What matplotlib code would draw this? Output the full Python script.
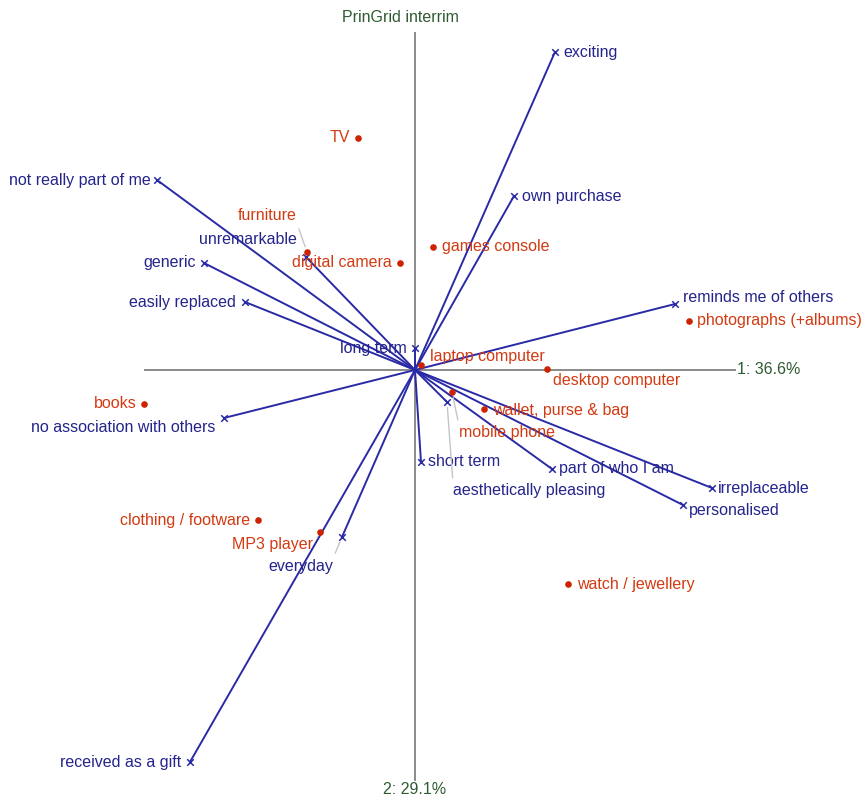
import numpy as np
import matplotlib
matplotlib.use('Agg')
import matplotlib.pyplot as plt

plt.rcParams['font.family'] = ['Liberation Sans', 'DejaVu Sans']

# constructs (vectors from the origin)
construct_names = ['exciting', 'own purchase', 'reminds me of others', 'not really part of me',
                   'unremarkable', 'generic', 'easily replaced', 'long term',
                   'no association with others', 'short term', 'everyday', 'received as a gift',
                   'aesthetically pleasing', 'part of who I am', 'irreplaceable', 'personalised']
construct_x = [1.40, 0.99, 2.60, -2.58, -1.09, -2.11, -1.70, 0.00,
               -1.91, 0.06, -0.73, -2.25, 0.32, 1.37, 2.97, 2.68]
construct_y = [3.18, 1.74, 0.66, 1.90, 1.13, 1.07, 0.68, 0.22,
               -0.48, -0.92, -1.67, -3.92, -0.32, -0.99, -1.18, -1.35]

# elements (points)
element_names = ['TV', 'furniture', 'digital camera', 'games console', 'photographs (+albums)',
                 'laptop computer', 'desktop computer', 'mobile phone', 'wallet, purse & bag',
                 'books', 'clothing / footware', 'MP3 player', 'watch / jewellery']
element_x = [-0.57, -1.08, -0.15, 0.18, 2.74, 0.06, 1.32, 0.37, 0.69, -2.71, -1.57, -0.95, 1.53]
element_y = [2.32, 1.18, 1.07, 1.23, 0.49, 0.05, 0.01, -0.22, -0.39, -0.34, -1.50, -1.62, -2.14]

axis1_label = '1: 36.6%'
axis2_label = '2: 29.1%'
title = 'PrinGrid interrim'

# label placement: (dx, dy in pixels, alignment, leader attach point or None)
construct_lab = [(8, 0, 'left', None), (8, 0, 'left', None), (8, 6, 'left', None),
                 (-6, 0, 'right', None), (-9, 17, 'right', None), (-8, 0, 'right', None),
                 (-9, 0, 'right', None), (-8, 0, 'right', None), (-9, -9, 'right', None),
                 (7, 0, 'left', None), (-9, -29, 'right', (1, 1)), (-9, 0, 'right', None),
                 (6, -89, 'left', (0, 1)), (7, 1, 'left', None), (6, 0, 'left', None),
                 (6, -6, 'left', None)]
element_lab = [(-8, 0, 'right', None), (-10, 36, 'right', (1, 0)), (-8, 0, 'right', None),
               (9, 0, 'left', None), (8, 0, 'left', None), (9, 8, 'left', None),
               (6, -12, 'left', None), (7, -41, 'left', (0, 1)), (9, -1, 'left', None),
               (-7, 0, 'right', None), (-8, 0, 'right', None), (-7, -12, 'right', (1, 0.4)),
               (9, 0, 'left', None)]

blue = '#2a2aa6'
blue_txt = '#24248c'
red = '#cc2200'
red_txt = '#d23a12'
green_txt = '#2f5a32'
fs = 11.5

fig = plt.figure(figsize=(8.66, 8.0), dpi=100)
ax = fig.add_axes([0, 0, 1, 1])
ax.set_xlim(-4.15, 4.51)
ax.set_ylim(-4.30, 3.70)
ax.axis('off')

# principal axes
ax.plot([-2.70, 3.20], [0, 0], color='#8a8a8a', lw=1.4, zorder=1)
ax.plot([0, 0], [3.37, -4.10], color='#8a8a8a', lw=1.4, zorder=1)
ax.text(3.22, 0, axis1_label, color=green_txt, fontsize=fs, ha='left', va='center')
ax.text(0, -4.20, axis2_label, color=green_txt, fontsize=fs, ha='center', va='center')
ax.text(-0.15, 3.53, title, color=green_txt, fontsize=fs, ha='center', va='center')

# construct vectors
for i in range(len(construct_names)):
    ax.plot([0, construct_x[i]], [0, construct_y[i]], color=blue, lw=1.4, zorder=2)
ax.scatter(construct_x, construct_y, marker='x', s=22, color=blue, linewidths=1.1, zorder=3)

def label(name, x, y, opts, col):
    dx, dy, ha, leader = opts
    kw = {}
    if leader is not None:
        kw['arrowprops'] = dict(arrowstyle='-', color='#c4c4cc', lw=1.0, relpos=leader,
                                shrinkA=2, shrinkB=4)
    ax.annotate(name, (x, y), xytext=(dx, dy), textcoords='offset pixels',
                ha=ha, va='center', fontsize=fs, color=col, zorder=4, **kw)

for i in range(len(construct_names)):
    label(construct_names[i], construct_x[i], construct_y[i], construct_lab[i], blue_txt)

ax.scatter(element_x, element_y, s=14, color=red, zorder=5)
for i in range(len(element_names)):
    label(element_names[i], element_x[i], element_y[i], element_lab[i], red_txt)

plt.savefig('out.png', dpi=100)
